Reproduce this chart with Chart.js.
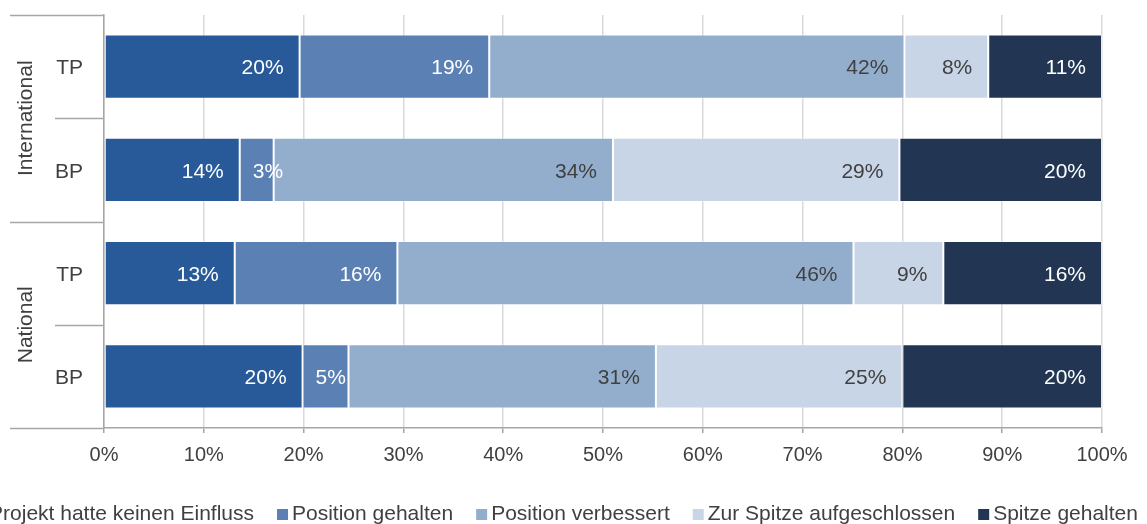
<!DOCTYPE html>
<html><head><meta charset="utf-8">
<script src="https://cdn.jsdelivr.net/npm/chart.js@4.4.1/dist/chart.umd.min.js"></script>
<style>html,body{margin:0;padding:0;background:#fff;overflow:hidden}#wrap{position:relative;width:1147px;height:524px}</style>
</head><body><div id="wrap"><canvas id="c" width="1147" height="524"></canvas></div>
<script>
// ---- data ----
const categories = ['TP', 'BP', 'TP', 'BP'];
const groups = ['International', 'National'];
const groupSizes = [2, 2];
const seriesNames = ['Projekt hatte keinen Einfluss', 'Position gehalten', 'Position verbessert', 'Zur Spitze aufgeschlossen', 'Spitze gehalten'];
const keinEinfluss = [19.6, 13.6, 13.1, 19.9];
const positionGehalten = [19.0, 3.4, 16.3, 4.6];
const positionVerbessert = [41.6, 34.0, 45.7, 30.8];
const spitzeAufgeschlossen = [8.4, 28.7, 9.0, 24.7];
const spitzeGehalten = [11.4, 20.3, 15.9, 20.0];
const xTickValues = [0, 10, 20, 30, 40, 50, 60, 70, 80, 90, 100];

// ---- style ----
const colors = ['#285a99', '#5b80b4', '#93aecd', '#c8d5e6', '#223654'];
const labelColors = ['#ffffff', '#ffffff', '#404040', '#404040', '#ffffff'];
const FONT = '"Liberation Sans", Arial, sans-serif';
const TEXT = '#404040';
const AXIS = '#a6a6a6';

const seriesValues = [keinEinfluss, positionGehalten, positionVerbessert, spitzeAufgeschlossen, spitzeGehalten];

const datasets = seriesNames.map((name, i) => ({
  label: name,
  data: seriesValues[i],
  backgroundColor: colors[i],
  borderColor: 'rgba(255,255,255,0.45)',
  borderWidth: 1,
  borderSkipped: false,
  barPercentage: 0.62,
  categoryPercentage: 1.0
}));

const structurePlugin = {
  id: 'structure',
  afterDraw(chart) {
    const ctx = chart.ctx, y = chart.scales.y, area = chart.chartArea;
    const n = categories.length;
    const boundary = (i) => {
      if (i === 0) return area.top;
      if (i === n) return area.bottom;
      return (y.getPixelForValue(i - 1) + y.getPixelForValue(i)) / 2;
    };
    ctx.save();
    ctx.strokeStyle = AXIS;
    ctx.lineWidth = 1.5;
    const groupStarts = [0];
    groupSizes.forEach((s, k) => groupStarts.push(groupStarts[k] + s));
    for (let i = 0; i <= n; i++) {
      const isGroup = groupStarts.includes(i);
      const yy = Math.round(boundary(i)) + 0.5;
      ctx.beginPath();
      ctx.moveTo(isGroup ? 10 : 55, yy);
      ctx.lineTo(area.left, yy);
      ctx.stroke();
    }
    // group labels
    ctx.fillStyle = TEXT;
    ctx.font = '21px ' + FONT;
    ctx.textAlign = 'center';
    ctx.textBaseline = 'middle';
    groups.forEach((g, k) => {
      const a = boundary(groupStarts[k]), b = boundary(groupStarts[k + 1]);
      ctx.save();
      ctx.translate(26, (a + b) / 2);
      ctx.rotate(-Math.PI / 2);
      ctx.fillText(g, 0, 0);
      ctx.restore();
    });
    // data labels
    ctx.font = '21px ' + FONT;
    ctx.textBaseline = 'middle';
    const padR = 16, padL = 13;
    chart.data.datasets.forEach((ds, di) => {
      const meta = chart.getDatasetMeta(di);
      meta.data.forEach((el, j) => {
        const v = ds.data[j];
        const txt = Math.round(v) + '%';
        const w = ctx.measureText(txt).width;
        const segW = el.x - el.base;
        ctx.fillStyle = labelColors[di];
        if (w + 2 * padR > segW) {
          ctx.textAlign = 'left';
          ctx.fillText(txt, el.base + padL, el.y + 2);
        } else {
          ctx.textAlign = 'right';
          ctx.fillText(txt, el.x - padR, el.y + 2);
        }
      });
    });
    // legend
    ctx.font = '21px ' + FONT;
    ctx.textAlign = 'left';
    const box = 11, gapBT = 4, gapItem = 23;
    const widths = seriesNames.map(s => ctx.measureText(s).width);
    const total = widths.reduce((a, w) => a + box + gapBT + w, 0) + gapItem * (seriesNames.length - 1);
    let x = 556 - total / 2;
    const ly = 514;
    seriesNames.forEach((s, i) => {
      ctx.fillStyle = colors[i];
      ctx.fillRect(x, 509, box, 11);
      ctx.fillStyle = TEXT;
      ctx.fillText(s, x + box + gapBT, ly);
      x += box + gapBT + widths[i] + gapItem;
    });
    ctx.restore();
  }
};

new Chart(document.getElementById('c'), {
  type: 'bar',
  data: { labels: categories, datasets },
  options: {
    indexAxis: 'y',
    responsive: false,
    animation: false,
    devicePixelRatio: 1,
    layout: { padding: { top: 15, right: 45, left: 0, bottom: 0 } },
    plugins: { legend: { display: false }, tooltip: { enabled: false } },
    scales: {
      x: {
        stacked: true,
        min: 0, max: 100,
        afterBuildTicks: (s) => { s.ticks = xTickValues.map(v => ({ value: v })); },
        afterFit: (s) => { s.height = 96; },
        ticks: { color: TEXT, font: { family: FONT, size: 20 }, padding: 10, callback: (v) => v + '%' },
        grid: { color: '#d9d9d9', lineWidth: 1.5, drawTicks: true, tickLength: 5, tickColor: AXIS },
        border: { display: true, color: AXIS, width: 1.5 }
      },
      y: {
        stacked: true,
        afterFit: (s) => { s.width = 104; },
        ticks: { color: TEXT, font: { family: FONT, size: 21 }, padding: 0, labelOffset: 2 },
        grid: { display: true, drawOnChartArea: false, drawTicks: true, tickLength: 21, color: 'rgba(0,0,0,0)', tickColor: 'rgba(0,0,0,0)' },
        border: { display: true, color: AXIS, width: 1.5 }
      }
    }
  },
  plugins: [structurePlugin]
});
</script>
</body></html>
